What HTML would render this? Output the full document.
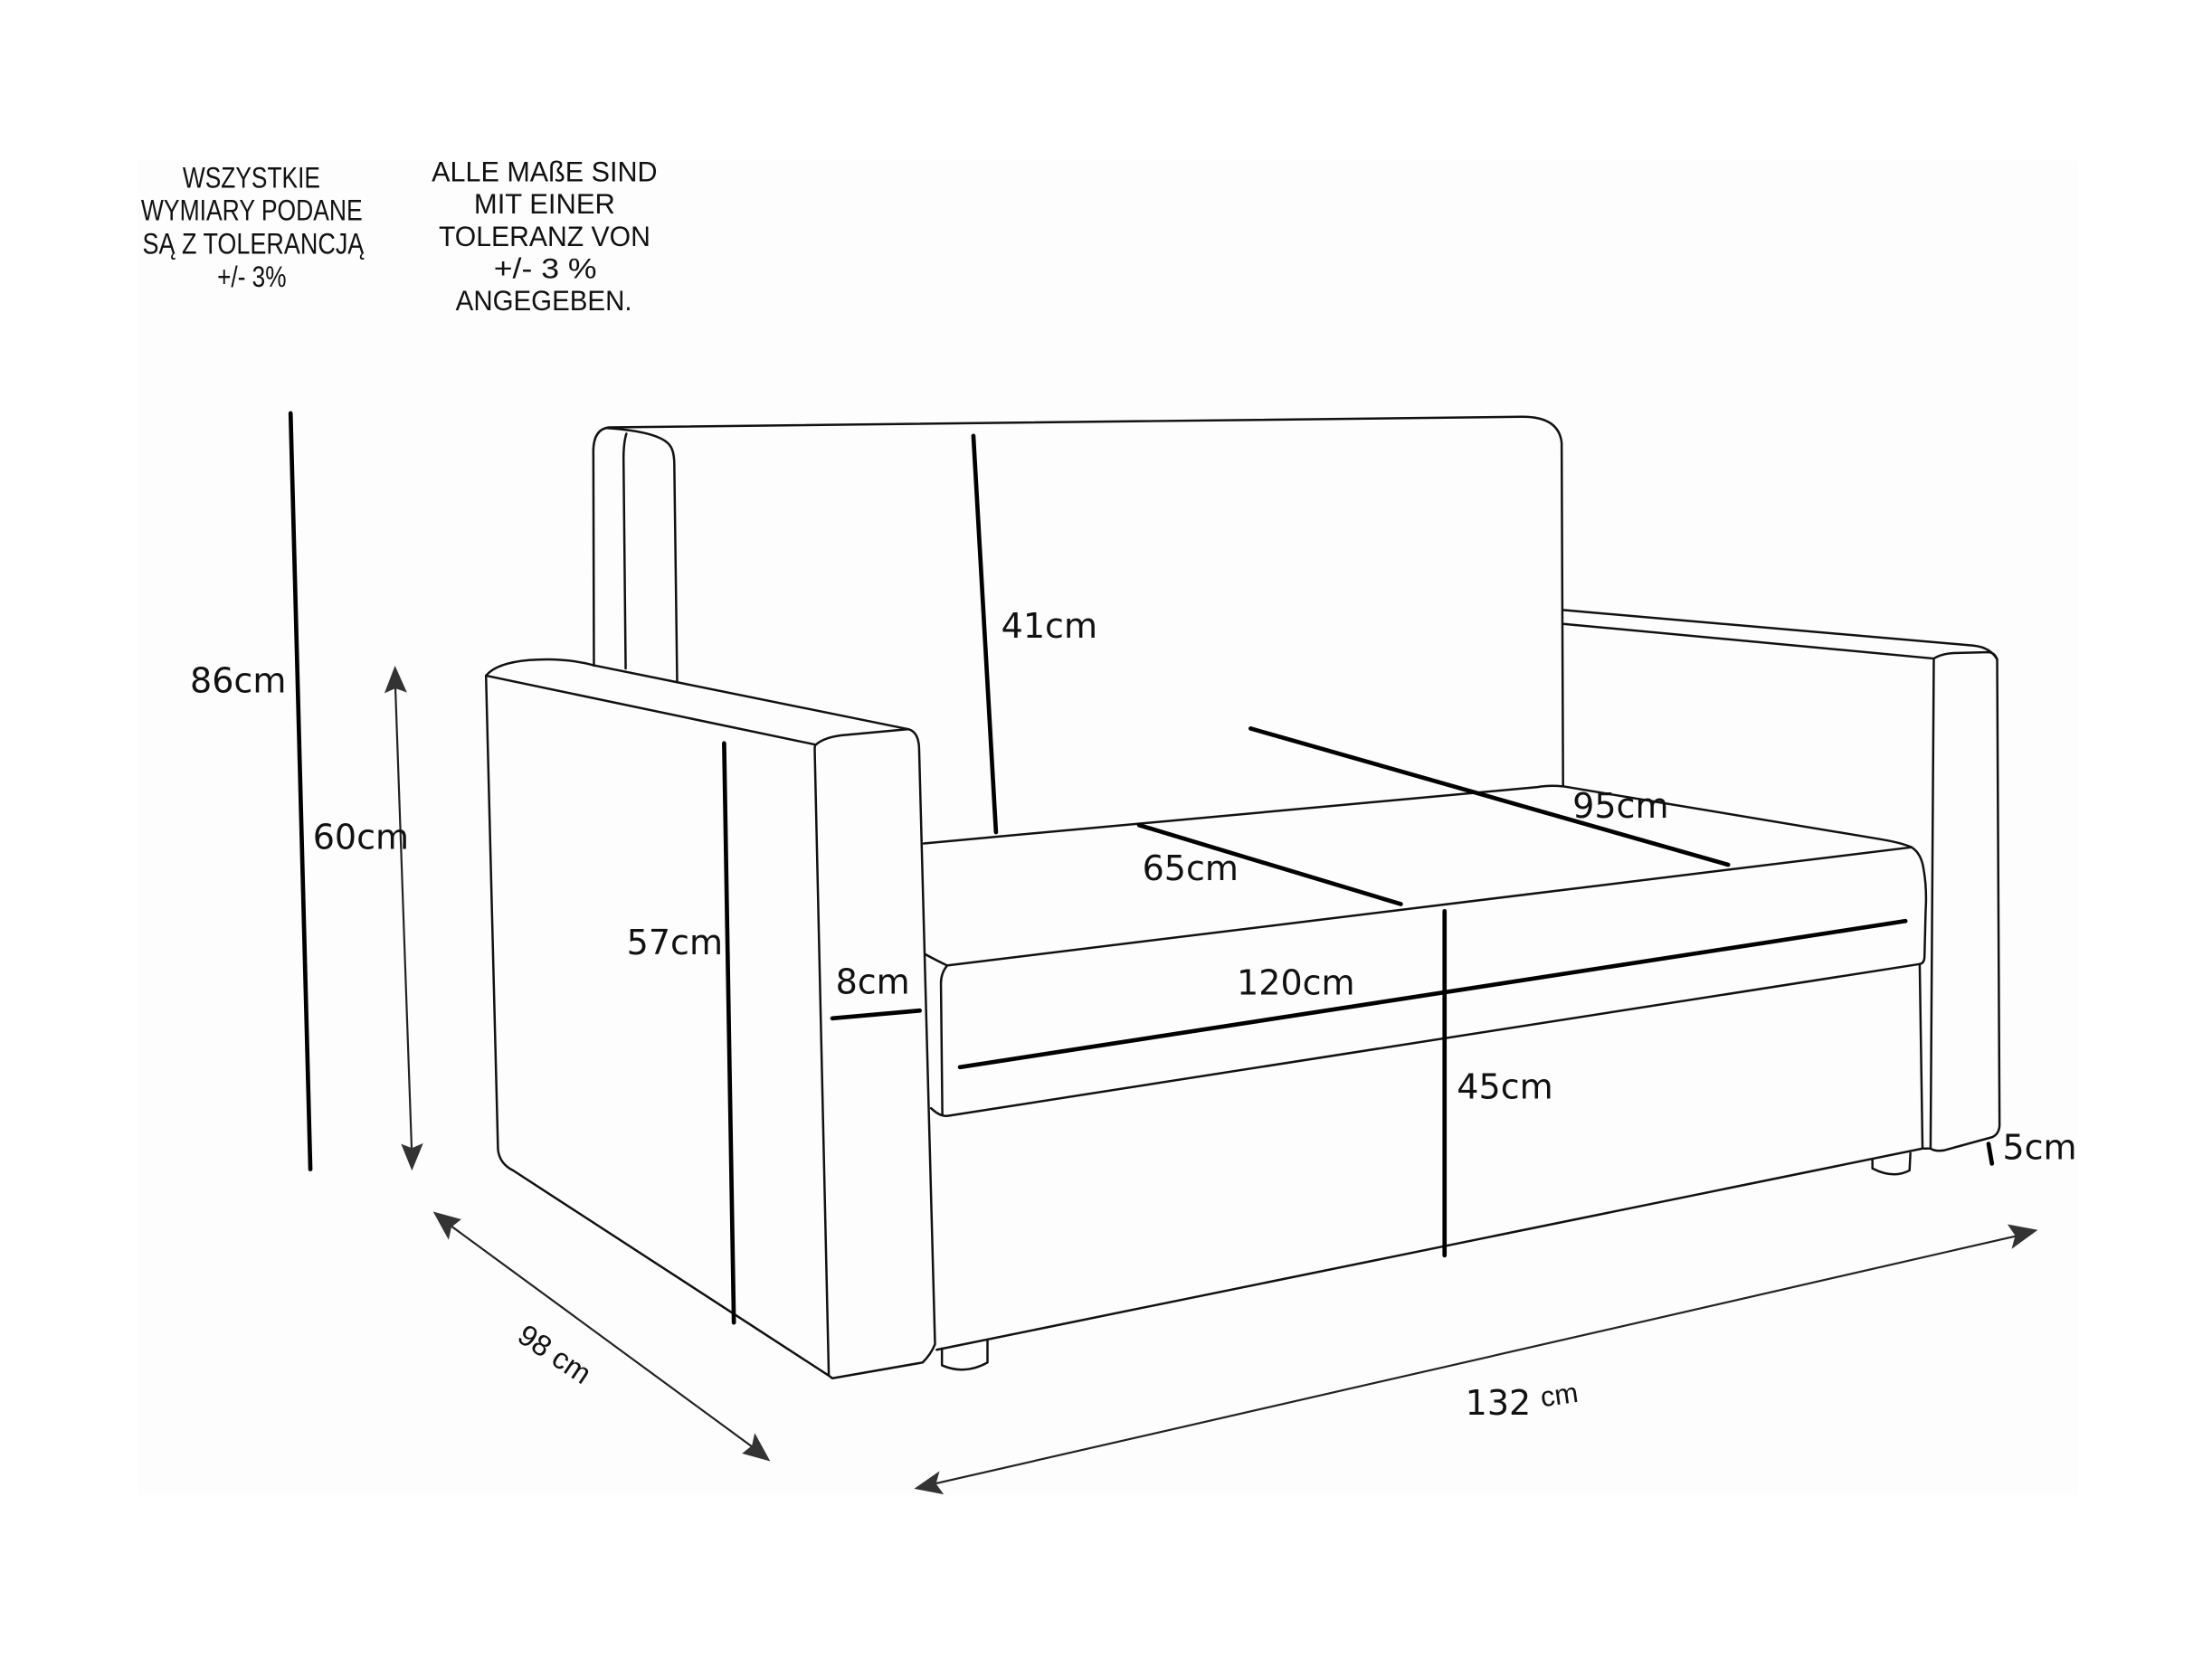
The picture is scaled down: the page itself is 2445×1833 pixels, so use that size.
<!DOCTYPE html>
<html>
<head>
<meta charset="utf-8">
<style>
html,body{margin:0;padding:0;background:#fff;width:2445px;height:1833px;overflow:hidden}
svg{display:block;position:absolute;left:0;top:0}
.s{fill:none;stroke:#111;stroke-width:1.6;stroke-linecap:round;stroke-linejoin:round}
.t{fill:none;stroke:#000;stroke-width:3;stroke-linecap:round}
.a{fill:none;stroke:#222;stroke-width:1.4}
.h{fill:#333;stroke:none}
.d{font-family:"DejaVu Sans",sans-serif;font-size:24.4px;fill:#111}
.l{font-family:"Liberation Sans",sans-serif;fill:#111}
</style>
</head>
<body>
<svg width="2445" height="1833" viewBox="0 0 1568 1175.5" xmlns="http://www.w3.org/2000/svg">
<rect x="97" y="114" width="1376" height="946" fill="#fdfdfd"/>

<text class="l" font-size="20.5" x="129.5" y="133" textLength="97.5" lengthAdjust="spacingAndGlyphs">WSZYSTKIE</text>
<text class="l" font-size="20.5" x="100" y="156" textLength="157" lengthAdjust="spacingAndGlyphs">WYMIARY PODANE</text>
<text class="l" font-size="20.5" x="101" y="180" textLength="157" lengthAdjust="spacingAndGlyphs">SĄ Z TOLERANCJĄ</text>
<text class="l" font-size="20.5" x="154" y="203.4" textLength="49" lengthAdjust="spacingAndGlyphs">+/- 3%</text>

<text class="l" font-size="20" x="306" y="128.6" textLength="160" lengthAdjust="spacingAndGlyphs">ALLE MAßE SIND</text>
<text class="l" font-size="20" x="336" y="151.2" textLength="100" lengthAdjust="spacingAndGlyphs">MIT EINER</text>
<text class="l" font-size="20" x="311" y="174.5" textLength="150" lengthAdjust="spacingAndGlyphs">TOLERANZ VON</text>
<text class="l" font-size="20" x="350" y="197.3" textLength="73" lengthAdjust="spacingAndGlyphs">+/- 3 %</text>
<text class="l" font-size="20" x="323" y="220" textLength="125" lengthAdjust="spacingAndGlyphs">ANGEGEBEN.</text>

<!-- backrest -->
<path class="s" d="M421 472 L420.6 322 Q420 304 432 303 L1078 295.5 Q1105 295 1107 314 L1108 557"/>
<path class="s" d="M430 303.5 Q468 306 475 316 Q478 320 478 330 L480 483"/>
<path class="s" d="M443.5 474 L442 325 Q442 314 444 307.5"/>

<!-- left arm -->
<path class="s" d="M344.5 479 Q352 470 375 468 Q400 466 421 471.7 L644 517 Q651 519 651.5 530 L662.8 953 Q660 960 654 966 L590 977.2 L587.5 975.3 L577.5 531 Q577.5 528 578.3 528 L344.5 479 L353 815 Q354 825 364 830 L587.5 975.3"/>
<path class="s" d="M578.3 528 Q584 523 596 521.4 L644 517"/>

<!-- seat -->
<path class="s" d="M654.8 598 L1090 558 Q1098 556.5 1108 557.5 L1333 595 Q1348 597.5 1355 600.7"/>
<path class="s" d="M655.6 676.4 Q664 681 671.4 684.5 L1355 600.7 Q1362 605 1363.6 616.4 Q1366 630 1365 646 L1364.2 678.5 Q1364 683 1360.8 683.5 L671.4 791.2 Q666 791.5 660 785.7"/>
<path class="s" d="M671.4 684.5 Q667 690 667 697 L668 790.5"/>

<!-- base -->
<path class="s" d="M664 957 L1362.8 814.3"/>
<path class="s" d="M1360.8 683.5 L1362.8 814.3 L1368.5 814.3"/>

<!-- feet -->
<path class="s" d="M667.7 956 L667.7 968 Q684 975 700 966 L700 950.6"/>
<path class="s" d="M1327.3 822.5 L1327.3 828.4 Q1342 836 1353.6 829.8 L1354.2 817.6"/>

<!-- right arm -->
<path class="s" d="M1108 432.5 L1399 457.7 Q1411 459 1415.7 467.5 L1417.4 798 Q1417 804 1412.3 806.2 L1378 815.6 Q1372 816.5 1368.5 814.3 L1370.8 466.9 L1108 442.3"/>
<path class="s" d="M1370.8 466.9 Q1376 463.5 1385 463 L1410 462.4 Q1414 463 1415.7 467.5"/>

<!-- thick dimension lines -->
<line class="t" x1="206" y1="293" x2="220" y2="829"/>
<line class="t" x1="690" y1="309" x2="706" y2="590"/>
<line class="t" x1="513.3" y1="527" x2="520.2" y2="937.7"/>
<line class="t" x1="590" y1="722" x2="652" y2="716.5"/>
<line class="t" x1="680.5" y1="756.6" x2="1350.7" y2="653"/>
<line class="t" x1="1024" y1="646" x2="1024" y2="890"/>
<line class="t" x1="807.5" y1="585" x2="993" y2="641"/>
<line class="t" x1="886.5" y1="516.5" x2="1225" y2="613.1"/>
<line class="t" x1="1409.6" y1="811" x2="1412" y2="825"/>

<!-- arrows: 60cm -->
<line class="a" x1="280" y1="480" x2="292" y2="820"/>
<path class="h" d="M280 472 L288.5 491 L280.3 488 L272.5 491.5 Z"/>
<path class="h" d="M292 830 L284.3 811 L292 814 L300 810.5 Z"/>
<!-- 98cm -->
<line class="a" x1="314" y1="865" x2="539" y2="1030"/>
<path class="h" d="M307 859 L327 864.5 L320 870 L318 879 Z"/>
<path class="h" d="M546 1036 L526 1030.5 L533 1025 L535 1016 Z"/>
<!-- 132cm -->
<line class="a" x1="658" y1="1053" x2="1435" y2="875"/>
<path class="h" d="M648 1055.5 L666 1043 L663.5 1052 L669 1059.5 Z"/>
<path class="h" d="M1444.5 872 L1426 885.5 L1428.5 876 L1423 868 Z"/>

<!-- dimension labels -->
<text class="d" x="134.7" y="491">86cm</text>
<text class="d" x="221.7" y="602">60cm</text>
<text class="d" x="709.7" y="452">41cm</text>
<text class="d" x="444.2" y="676.5">57cm</text>
<text class="d" x="592.3" y="704.5">8cm</text>
<text class="d" x="809.7" y="624">65cm</text>
<text class="d" x="1114.7" y="579.6">95cm</text>
<text class="d" x="876.7" y="705">120cm</text>
<text class="d" x="1032.7" y="779">45cm</text>
<text class="d" x="1419.5" y="821.7">5cm</text>
<text class="d" x="1038.7" y="1003">132</text>
<text class="l" font-size="20" transform="translate(1093 997.5) rotate(-8)">cm</text>
<text class="l" font-size="21" transform="translate(365.5 950) rotate(34)">98 cm</text>
</svg>
</body>
</html>
